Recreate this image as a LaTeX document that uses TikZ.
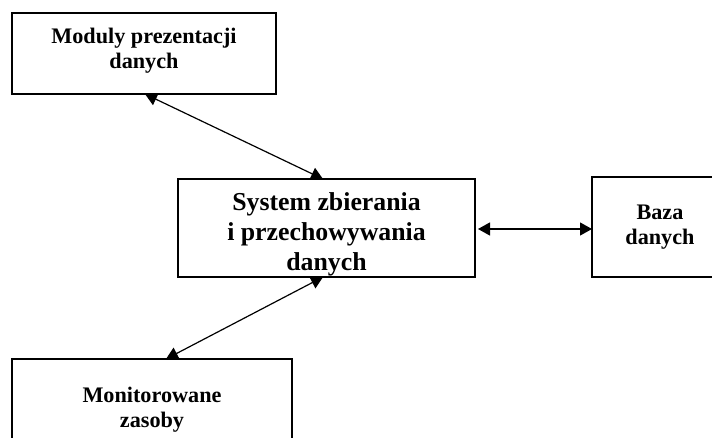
\documentclass[tikz,border=0pt]{standalone}
\usepackage{fontspec}
\setmainfont{Liberation Serif}
\usetikzlibrary{arrows.meta}
\begin{document}
\begin{tikzpicture}[x=1pt,y=-1pt,
  box/.style={draw=black,line width=1.4pt,fill=white,inner sep=0pt,outer sep=0pt,rectangle},
  txt/.style={align=center,inner sep=0pt,font=\fontsize{22.2}{25}\selectfont\bfseries},
  bigtxt/.style={align=center,inner sep=0pt,font=\fontsize{25.8}{30}\selectfont\bfseries},
  tip/.style={Triangle[length=12pt,width=13pt]},
  link/.style={line width=1.2pt,{Triangle[length=12pt,width=13pt]}-{Triangle[length=12pt,width=13pt]}}]
  % canvas
  \fill[white] (0,0) rectangle (712,437);
  \useasboundingbox (0,0) rectangle (712,437);

  % boxes
  \node[box,minimum width=264pt,minimum height=81pt] (mod) at (144,53.5) {};
  \node[box,minimum width=297pt,minimum height=98pt] (sys) at (326.5,228) {};
  \node[box,minimum width=136pt,minimum height=100pt] (baz) at (660,227) {};
  \node[box,minimum width=280pt,minimum height=102pt] (mon) at (152,410) {};

  % labels
  \node[txt] (modtxt) at (144,50.5) {Moduly prezentacji\\danych};
  \node[bigtxt] (systxt) at (326.5,234) {System zbierania\\i przechowywania\\danych};
  \node[txt] (baztxt) at (660,227.5) {Baza\\danych};
  \node[txt] (montxt) at (152,409.5) {Monitorowane\\zasoby};

  % connections
  \draw[link] ([xshift=1pt]mod.south) -- ([xshift=-3.5pt]sys.north);
  \draw[link] ([xshift=3pt,yshift=-1pt]sys.east) -- ([yshift=-1pt]sys.east -| baz.west);
  \draw[link] ([xshift=-3.5pt]sys.south) -- ([xshift=14pt]mon.north);
\end{tikzpicture}
\end{document}
